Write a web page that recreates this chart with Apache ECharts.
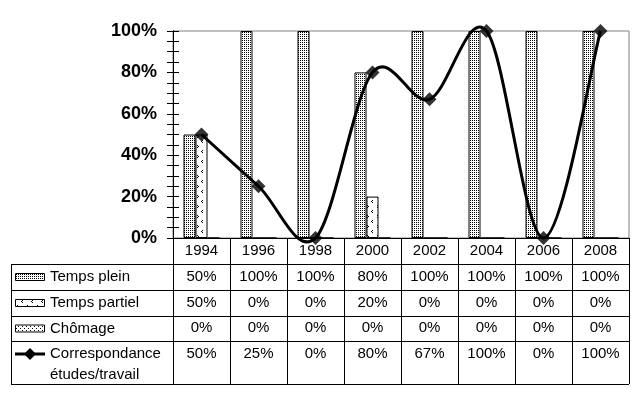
<!DOCTYPE html>
<html>
<head>
<meta charset="utf-8">
<script src="https://cdn.jsdelivr.net/npm/echarts@6/dist/echarts.min.js"></script>
<style>
html,body{margin:0;padding:0;background:#fff;}
#main{width:639px;height:399px;}
</style>
</head>
<body>
<div id="main"></div>
<script>
// ---- data ----
const years = ['1994','1996','1998','2000','2002','2004','2006','2008'];
const tempsPlein = [50,100,100,80,100,100,100,100];
const tempsPartiel = [50,0,0,20,0,0,0,0];
const chomage = [0,0,0,0,0,0,0,0];
const correspondance = [50,25,0,80,67,100,0,100];
const seriesNames = ['Temps plein','Temps partiel','Chômage','Correspondance études/travail'];

// ---- patterns ----
function makePattern(w, h, pts) {
  const c = document.createElement('canvas');
  c.width = w; c.height = h;
  const ctx = c.getContext('2d');
  ctx.fillStyle = '#fff'; ctx.fillRect(0,0,w,h);
  ctx.fillStyle = '#000';
  pts.forEach(p => ctx.fillRect(p[0], p[1], 1, 1));
  return {image: c, repeat: 'repeat'};
}
const patPlein = makePattern(2, 2, [[0,0]]);
const patPartiel = makePattern(10, 10, [[2,0],[1,1],[2,2],[7,5],[8,6],[7,7]]);
const patChomage = makePattern(4, 4, [[0,0],[2,2]]);
const patterns = [patPlein, patPartiel, patChomage];

const FONT = '"Liberation Sans", Arial, sans-serif';
const pct = v => v + '%';

const chart = echarts.init(document.getElementById('main'), null, {renderer: 'canvas'});

const tableRows = [tempsPlein, tempsPartiel, chomage, correspondance];

// graphic: table grid lines + legend column
const rowCenters = [277, 303, 328.5, 354];
const hLines = [264.5, 290.5, 316.5, 341.5, 384.5];
const graphics = [];
hLines.forEach(y => graphics.push({
  type: 'line', shape: {x1: 11, y1: y, x2: 629, y2: y},
  style: {stroke: '#000', lineWidth: 1}, z: 10
}));
graphics.push({type: 'line', shape: {x1: 11.5, y1: 264, x2: 11.5, y2: 385},
  style: {stroke: '#000', lineWidth: 1}, z: 10});
for (let i = 0; i < 3; i++) {
  graphics.push({type: 'rect', shape: {x: 15.5, y: rowCenters[i] - 3.5, width: 29, height: 7},
    style: {fill: patterns[i], stroke: '#000', lineWidth: 1}, z: 10});
}
graphics.push({type: 'line', shape: {x1: 15, y1: 354, x2: 45, y2: 354},
  style: {stroke: '#000', lineWidth: 3}, z: 10});
graphics.push({type: 'polygon', shape: {points: [[30,348],[36,354],[30,360],[24,354]]},
  style: {fill: '#000'}, z: 11});
['Temps plein','Temps partiel','Chômage'].forEach((t, i) => graphics.push({
  type: 'text', x: 50, y: rowCenters[i],
  style: {text: t, font: '15px ' + FONT, fill: '#000', verticalAlign: 'middle', align: 'left'}, z: 10
}));
graphics.push({type: 'text', x: 50, y: 354,
  style: {text: 'Correspondance', font: '15px ' + FONT, fill: '#000', verticalAlign: 'middle'}, z: 10});
graphics.push({type: 'text', x: 50, y: 375,
  style: {text: 'études/travail', font: '15px ' + FONT, fill: '#000', verticalAlign: 'middle'}, z: 10});

const yAxisBase = {
  type: 'value', min: 0, max: 100, interval: 20, position: 'left',
  axisLine: {show: true, lineStyle: {color: '#000', width: 1}},
  splitLine: {show: false},
  minorTick: {show: true, splitNumber: 4, length: 6, lineStyle: {color: '#000'}},
  minorSplitLine: {show: false}
};

// Excel-like smoothed curve (Catmull-Rom bezier through the axis-mapped points)
function renderCurve(params, api) {
  if (params.dataIndex !== 0) return null;
  const pts = correspondance.map((v, i) => api.coord([i, v]));
  const n = pts.length;
  let d = 'M' + pts[0][0] + ' ' + pts[0][1];
  for (let i = 0; i < n - 1; i++) {
    const p0 = pts[Math.max(i - 1, 0)], p1 = pts[i], p2 = pts[i + 1], p3 = pts[Math.min(i + 2, n - 1)];
    const c1x = p1[0] + (p2[0] - p0[0]) / 6, c1y = p1[1] + (p2[1] - p0[1]) / 6;
    const c2x = p2[0] - (p3[0] - p1[0]) / 6, c2y = p2[1] - (p3[1] - p1[1]) / 6;
    d += ' C' + c1x + ' ' + c1y + ' ' + c2x + ' ' + c2y + ' ' + p2[0] + ' ' + p2[1];
  }
  return {type: 'path', shape: {pathData: d},
    style: {stroke: '#000', lineWidth: 3, fill: null, lineJoin: 'round'}};
}

const option = {
  animation: false,
  backgroundColor: '#fff',
  grid: {left: 173, top: 31, width: 456, height: 207, show: true,
    borderColor: '#808080', borderWidth: 1, backgroundColor: 'transparent'},
  graphic: graphics,
  xAxis: {
    type: 'category', data: years,
    axisLine: {show: true, lineStyle: {color: '#000', width: 1}},
    axisTick: {show: true, length: 146, interval: 0, alignWithLabel: false, lineStyle: {color: '#000'}},
    splitLine: {show: false},
    axisLabel: {
      interval: 0, margin: 0, color: '#000', fontFamily: FONT, fontSize: 15,
      lineHeight: 25.75,
      formatter: (v, idx) => [v].concat(tableRows.map(r => pct(r[idx]))).join('\n')
    }
  },
  yAxis: [
    Object.assign({}, yAxisBase, {
      axisTick: {show: true, inside: false, length: 6, lineStyle: {color: '#000'}},
      axisLabel: {show: true, formatter: '{value}%', margin: 16, color: '#000',
        fontFamily: FONT, fontSize: 18, fontWeight: 'bold'}
    }),
    Object.assign({}, yAxisBase, {
      axisTick: {show: true, inside: true, length: 6, lineStyle: {color: '#000'}},
      axisLabel: {show: false}
    })
  ],
  series: [
    {name: seriesNames[0], type: 'bar', data: tempsPlein, barWidth: 12, barGap: '0%',
      itemStyle: {color: patPlein, borderColor: '#000', borderWidth: 1}},
    {name: seriesNames[1], type: 'bar', data: tempsPartiel, barWidth: 12, barGap: '0%',
      itemStyle: {color: patPartiel, borderColor: '#000', borderWidth: 1}},
    {name: seriesNames[2], type: 'bar', data: chomage, barWidth: 12, barGap: '0%',
      itemStyle: {color: patChomage, borderColor: '#000', borderWidth: 1}},
    {name: seriesNames[3], type: 'custom', renderItem: renderCurve, clip: false, z: 5,
      data: correspondance.map((v, i) => [i, v]), encode: {x: 0, y: 1}},
    {name: seriesNames[3] + ' (points)', type: 'scatter', data: correspondance.map((v, i) => [i, v]),
      symbol: 'diamond', symbolSize: 14, z: 6, clip: false, itemStyle: {color: '#000'}}
  ]
};
chart.setOption(option);
</script>
</body>
</html>
